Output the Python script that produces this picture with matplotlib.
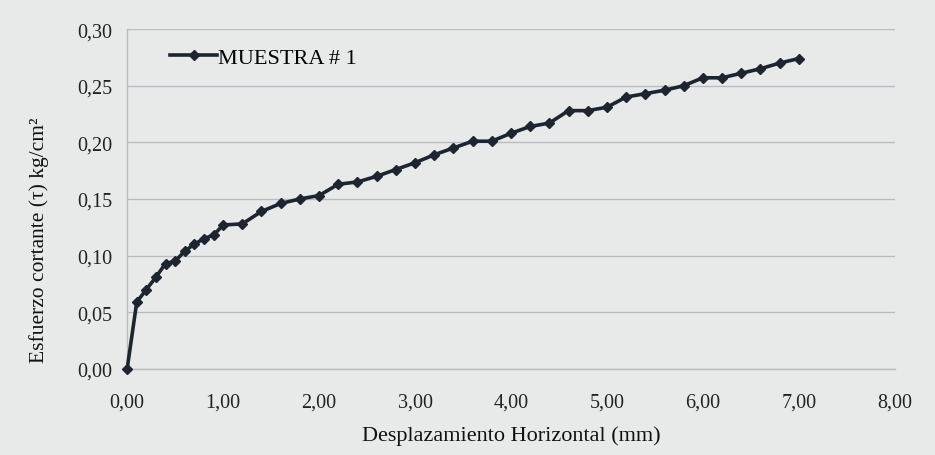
import matplotlib
matplotlib.use("Agg")
import matplotlib.pyplot as plt
from matplotlib.ticker import FuncFormatter, MultipleLocator

# desplazamiento horizontal (mm) y esfuerzo cortante (kg/cm2)
desplazamiento = [0.00, 0.10, 0.20, 0.30, 0.40, 0.50, 0.60, 0.70, 0.80, 0.90,
                  1.00, 1.20, 1.40, 1.60, 1.80, 2.00, 2.20, 2.40, 2.60, 2.80,
                  3.00, 3.20, 3.40, 3.60, 3.80, 4.00, 4.20, 4.40, 4.60, 4.80,
                  5.00, 5.20, 5.40, 5.60, 5.80, 6.00, 6.20, 6.40, 6.60, 6.80,
                  7.00]
esfuerzo = [0.000, 0.059, 0.070, 0.081, 0.093, 0.095, 0.104, 0.110, 0.115, 0.118,
            0.127, 0.128, 0.139, 0.146, 0.150, 0.153, 0.163, 0.165, 0.170, 0.176,
            0.182, 0.189, 0.195, 0.201, 0.201, 0.208, 0.214, 0.217, 0.228, 0.228,
            0.231, 0.240, 0.243, 0.246, 0.250, 0.257, 0.257, 0.261, 0.265, 0.270,
            0.274]
SERIE = "MUESTRA # 1"

PAPER = "#e8eaea"
INK = "#1c2530"
GRID = "#b9bcbe"

plt.rcParams["font.family"] = ["Liberation Serif", "DejaVu Serif"]

fig = plt.figure(figsize=(9.35, 4.56), dpi=100, facecolor=PAPER)
ax = fig.add_axes([0.136, 0.189, 0.821, 0.745], facecolor=PAPER)

ax.plot(desplazamiento, esfuerzo, color=INK, lw=2.6, marker="D", ms=5.5,
        mfc=INK, mec=INK, label=SERIE, clip_on=False, zorder=3)

ax.set_xlim(0, 8)
ax.set_ylim(0, 0.30)
ax.xaxis.set_major_locator(MultipleLocator(1))
ax.yaxis.set_major_locator(MultipleLocator(0.05))
fmt = FuncFormatter(lambda v, p: f"{v:.2f}".replace(".", ","))
ax.xaxis.set_major_formatter(fmt)
ax.yaxis.set_major_formatter(fmt)
ax.tick_params(labelsize=14.5, colors="#222222", length=0)
ax.tick_params(axis="x", pad=17)
ax.tick_params(axis="y", pad=11)

ax.grid(axis="y", color=GRID, lw=1.0)
ax.set_axisbelow(True)
for sp in ("top", "right"):
    ax.spines[sp].set_visible(False)
for sp in ("left", "bottom"):
    ax.spines[sp].set_color(GRID)
    ax.spines[sp].set_linewidth(1.0)

ax.set_xlabel("Desplazamiento Horizontal (mm)", fontsize=16, labelpad=10, color="#111111")
ax.set_ylabel("Esfuerzo cortante (τ) kg/cm²", fontsize=15.5, color="#111111")
ax.yaxis.set_label_coords(-0.102, 0.38)

ax.legend(loc="upper left", bbox_to_anchor=(0.03, 1.005), frameon=False,
          fontsize=16, handlelength=2.1, handletextpad=0.05)

fig.savefig("out.png", dpi=100, facecolor=PAPER)
